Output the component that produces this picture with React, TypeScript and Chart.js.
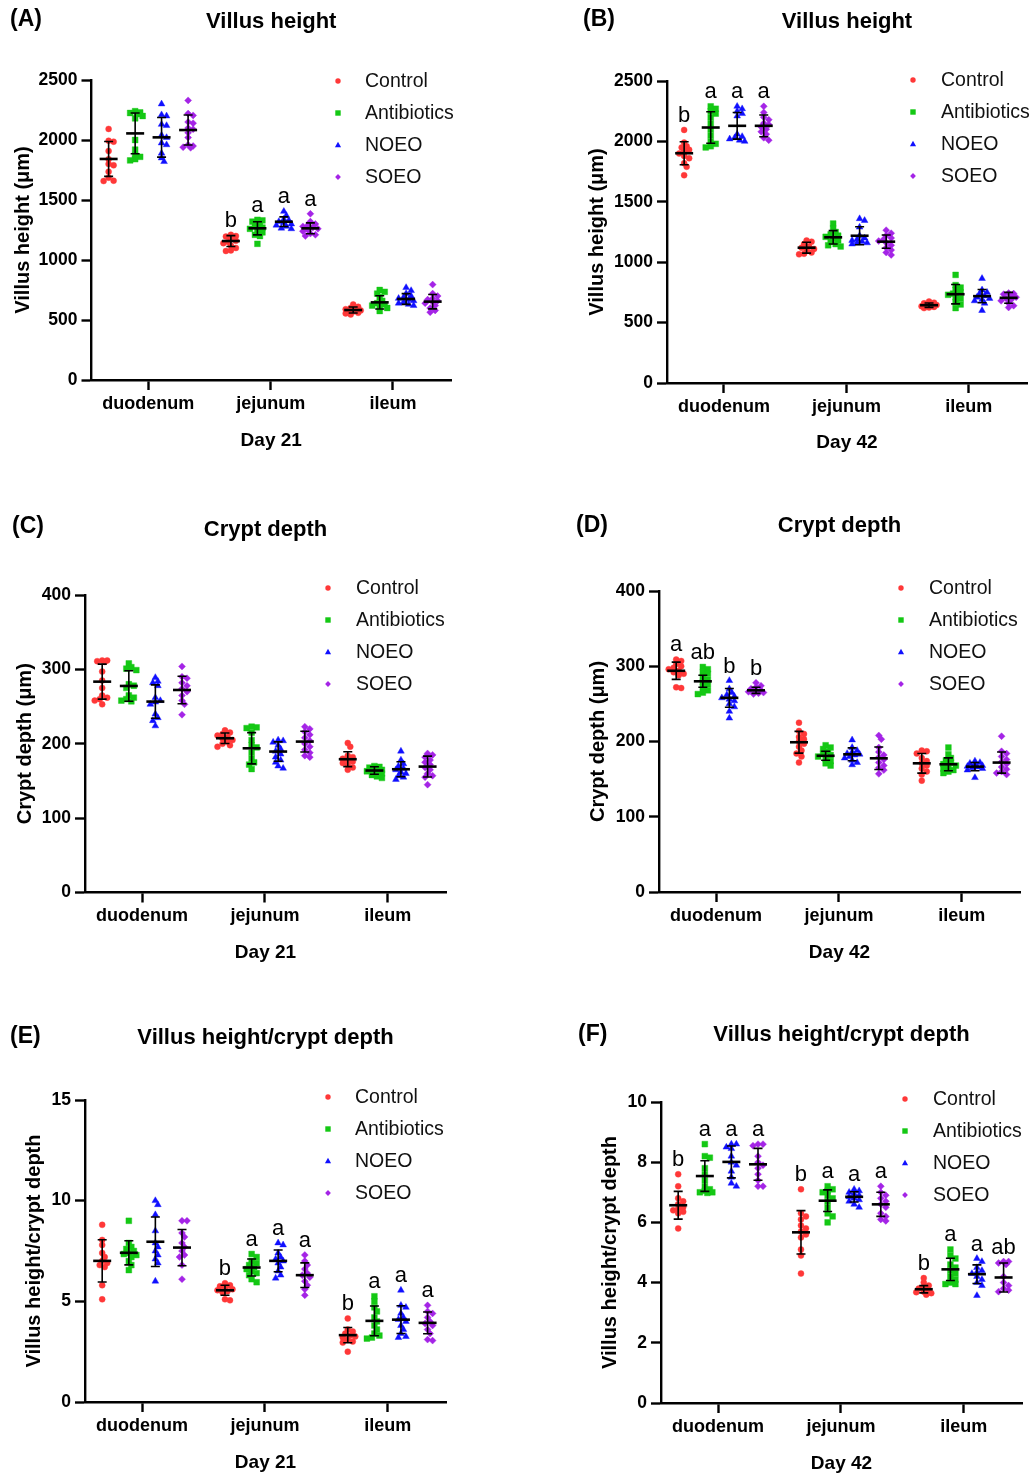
import React, { useEffect, useRef } from 'react';
import { Chart, registerables } from 'chart.js';
Chart.register(...registerables);

// ---------- data ----------
const categories = ['duodenum', 'jejunum', 'ileum'];
const groups = ['Control', 'Antibiotics', 'NOEO', 'SOEO'];

// (A) Villus height, Day 21  [duodenum, jejunum, ileum]
const A_Control = [
  [2092, 1994, 1986, 1908, 1840, 1800, 1789, 1736, 1686, 1661, 1658],
  [1210, 1200, 1195, 1180, 1160, 1150, 1140, 1120, 1100, 1080, 1075],
  [630, 610, 600, 590, 585, 580, 575, 570, 560, 555, 545],
];
const A_Antibiotics = [
  [2240, 2230, 2225, 2215, 2200, 2180, 2000, 1920, 1875, 1860, 1840, 1830],
  [1335, 1330, 1320, 1300, 1285, 1270, 1260, 1240, 1230, 1210, 1200, 1135],
  [750, 735, 720, 690, 660, 640, 630, 620, 610, 600, 575],
];
const A_NOEO = [
  [2300, 2210, 2200, 2130, 2120, 2040, 2020, 1975, 1960, 1890, 1850, 1820],
  [1405, 1370, 1340, 1330, 1320, 1310, 1300, 1290, 1280, 1265, 1260],
  [770, 745, 720, 700, 690, 680, 670, 660, 650, 640, 630, 620],
];
const A_SOEO = [
  [2330, 2220, 2205, 2150, 2140, 2100, 2090, 2060, 2020, 1960, 1950, 1940, 1935],
  [1385, 1320, 1300, 1290, 1280, 1270, 1260, 1250, 1240, 1220, 1210, 1200],
  [795, 720, 700, 680, 670, 660, 650, 640, 620, 600, 580, 565],
];
const A_mean = [[1842, 2055, 2022, 2083], [1158, 1264, 1319, 1264], [583, 647, 675, 653]];
const A_sd = [[145, 170, 165, 125], [45, 55, 40, 45], [25, 55, 45, 60]];
const A_letters = [['', '', '', ''], ['b', 'a', 'a', 'a'], ['', '', '', '']];

// (B) Villus height, Day 42
const B_Control = [
  [2095, 1990, 1960, 1950, 1930, 1920, 1900, 1880, 1860, 1820, 1790, 1720],
  [1180, 1170, 1150, 1130, 1120, 1110, 1100, 1080, 1070, 1065],
  [675, 665, 660, 650, 645, 640, 635, 630, 625, 620],
];
const B_Antibiotics = [
  [2290, 2270, 2250, 2230, 2200, 2150, 2100, 2050, 2000, 1980, 1960, 1950],
  [1320, 1280, 1250, 1230, 1220, 1210, 1200, 1180, 1170, 1150, 1140, 1130],
  [895, 810, 790, 770, 750, 740, 730, 710, 700, 670, 650, 620],
];
const B_NOEO = [
  [2290, 2270, 2250, 2230, 2210, 2060, 2040, 2030, 2020, 2010, 2000],
  [1360, 1345, 1290, 1220, 1200, 1190, 1180, 1170, 1160, 1160, 1150],
  [865, 770, 750, 740, 720, 710, 700, 690, 680, 660, 600],
];
const B_SOEO = [
  [2290, 2240, 2200, 2180, 2150, 2140, 2120, 2100, 2080, 2060, 2030, 2010],
  [1265, 1240, 1220, 1200, 1190, 1175, 1160, 1140, 1120, 1100, 1080, 1060],
  [745, 740, 735, 725, 710, 700, 690, 680, 660, 640, 625],
];
const B_mean = [[1902, 2115, 2129, 2129], [1120, 1206, 1219, 1170], [644, 735, 719, 705]];
const B_sd = [[95, 130, 110, 90], [45, 55, 75, 55], [18, 80, 55, 45]];
const B_letters = [['b', 'a', 'a', 'a'], ['', '', '', ''], ['', '', '', '']];

// (C) Crypt depth, Day 21
const C_Control = [
  [312, 312, 311, 310, 297, 285, 275, 265, 262, 260, 258, 253],
  [218, 215, 213, 211, 209, 207, 205, 203, 200, 198, 196],
  [201, 196, 184, 182, 180, 178, 176, 174, 172, 168, 165],
];
const C_Antibiotics = [
  [308, 303, 301, 299, 280, 278, 275, 265, 262, 260, 258, 257],
  [223, 222, 221, 215, 205, 198, 195, 188, 180, 175, 172, 166],
  [170, 169, 168, 167, 165, 164, 163, 162, 160, 158, 156, 154],
];
const C_NOEO = [
  [289, 284, 282, 278, 262, 258, 256, 253, 240, 235, 231, 224],
  [205, 204, 202, 198, 193, 190, 186, 182, 178, 175, 170, 167],
  [190, 178, 173, 170, 167, 165, 162, 160, 157, 155, 152],
];
const C_SOEO = [
  [304, 290, 288, 282, 278, 274, 270, 265, 258, 253, 239],
  [223, 220, 216, 212, 208, 204, 200, 196, 192, 188, 184, 182],
  [187, 185, 182, 178, 175, 172, 168, 165, 160, 157, 155, 145],
];
const C_mean = [[283.5, 277.7, 256.7, 272.3], [207.4, 193.9, 189.5, 202.9], [179.2, 164, 165.7, 169.3]];
const C_sd = [[23.5, 20.5, 22.5, 18.5], [7, 21, 13, 14], [10, 5, 10, 14]];
const C_letters = [['', '', '', ''], ['', '', '', ''], ['', '', '', '']];

// (D) Crypt depth, Day 42
const D_Control = [
  [309, 307, 303, 300, 298, 296, 294, 292, 290, 288, 272, 271],
  [225, 214, 210, 206, 203, 200, 197, 193, 188, 184, 180, 172],
  [188, 187, 184, 178, 174, 171, 168, 164, 160, 156, 148],
];
const D_Antibiotics = [
  [299, 296, 292, 290, 286, 282, 279, 276, 272, 268, 265, 263],
  [195, 192, 190, 187, 184, 182, 180, 177, 174, 171, 168],
  [192, 183, 178, 175, 172, 170, 168, 166, 164, 162, 160, 158],
];
const D_NOEO = [
  [281, 270, 265, 262, 260, 258, 256, 254, 250, 246, 240, 231],
  [202, 192, 188, 186, 184, 183, 182, 180, 178, 175, 172, 169],
  [174, 172, 171, 170, 168, 167, 166, 165, 164, 162, 152],
];
const D_SOEO = [
  [278, 274, 272, 270, 268, 267, 266, 265, 264, 263],
  [208, 203, 192, 186, 182, 179, 176, 172, 168, 165, 162, 157],
  [207, 187, 184, 180, 176, 173, 170, 166, 163, 160, 158, 156],
];
const D_mean = [[294, 280, 258, 268], [199, 181, 183, 177.7], [171, 169.7, 166.6, 172]];
const D_sd = [[11.5, 8, 12.5, 4], [14.5, 6, 8.5, 15], [13, 8.5, 5.5, 14]];
const D_letters = [['a', 'ab', 'b', 'b'], ['', '', '', ''], ['', '', '', '']];

// (E) Villus height/crypt depth, Day 21
const E_Control = [
  [8.8, 8.05, 7.8, 7.4, 7.2, 7.0, 6.9, 6.8, 6.7, 5.8, 5.1],
  [5.9, 5.8, 5.75, 5.7, 5.6, 5.55, 5.5, 5.45, 5.1, 5.05],
  [4.15, 3.6, 3.5, 3.4, 3.3, 3.25, 3.2, 3.1, 3.0, 2.95, 2.5],
];
const E_Antibiotics = [
  [9.0, 7.9, 7.7, 7.6, 7.5, 7.4, 7.35, 7.3, 7.2, 7.0, 6.8, 6.55],
  [7.35, 7.2, 7.0, 6.9, 6.8, 6.7, 6.6, 6.5, 6.4, 6.3, 6.1, 5.95],
  [5.25, 5.0, 4.7, 4.5, 4.2, 4.0, 3.8, 3.6, 3.4, 3.3, 3.2, 3.15],
];
const E_NOEO = [
  [10.0, 9.8, 9.3, 8.5, 7.9, 7.7, 7.5, 7.3, 7.1, 6.9, 6.0],
  [7.9, 7.8, 7.4, 7.2, 7.1, 7.0, 6.9, 6.7, 6.5, 6.3, 6.15],
  [5.55, 4.8, 4.7, 4.4, 4.2, 4.1, 4.0, 3.8, 3.6, 3.4, 3.25, 3.2],
];
const E_SOEO = [
  [9.0, 9.0, 8.4, 8.2, 7.9, 7.7, 7.5, 7.3, 7.2, 6.8, 6.1],
  [7.3, 7.0, 6.8, 6.6, 6.4, 6.3, 6.2, 6.0, 5.8, 5.6, 5.3],
  [4.8, 4.5, 4.4, 4.2, 4.0, 3.9, 3.8, 3.6, 3.4, 3.1, 3.05],
];
const E_mean = [[7.01, 7.41, 7.96, 7.67], [5.55, 6.68, 7.01, 6.3], [3.32, 4.03, 4.09, 3.93]];
const E_sd = [[1.05, 0.6, 1.23, 0.9], [0.25, 0.42, 0.54, 0.61], [0.38, 0.74, 0.69, 0.54]];
const E_letters = [['', '', '', ''], ['b', 'a', 'a', 'a'], ['b', 'a', 'a', 'a']];

// (F) Villus height/crypt depth, Day 42
const F_Control = [
  [7.6, 7.2, 6.8, 6.7, 6.6, 6.5, 6.45, 6.4, 6.35, 6.3, 5.8],
  [7.1, 6.3, 6.2, 6.1, 5.9, 5.8, 5.7, 5.6, 5.5, 5.1, 4.9, 4.3],
  [4.15, 4.0, 3.9, 3.85, 3.8, 3.75, 3.7, 3.68, 3.65, 3.6],
];
const F_Antibiotics = [
  [8.6, 8.2, 8.15, 7.8, 7.6, 7.4, 7.2, 7.1, 7.05, 7.0, 7.0, 6.98],
  [7.2, 7.1, 7.05, 7.0, 6.9, 6.8, 6.7, 6.5, 6.3, 6.2, 6.0],
  [5.1, 4.9, 4.8, 4.6, 4.5, 4.4, 4.3, 4.2, 4.1, 4.0, 3.95, 3.95],
];
const F_NOEO = [
  [8.6, 8.6, 8.5, 8.45, 8.2, 8.0, 7.9, 7.7, 7.5, 7.3, 7.2],
  [7.1, 7.05, 7.0, 6.95, 6.9, 6.85, 6.8, 6.75, 6.7, 6.6, 6.5],
  [4.8, 4.7, 4.5, 4.4, 4.35, 4.3, 4.2, 4.1, 4.0, 3.9, 3.57],
];
const F_SOEO = [
  [8.6, 8.6, 8.55, 8.2, 8.0, 7.9, 7.8, 7.6, 7.4, 7.2, 7.2],
  [7.2, 7.0, 6.9, 6.8, 6.7, 6.6, 6.5, 6.3, 6.2, 6.1, 6.05],
  [4.7, 4.7, 4.65, 4.6, 4.2, 4.0, 3.9, 3.8, 3.75, 3.7],
];
const F_mean = [[6.57, 7.54, 8.01, 7.93], [5.67, 6.72, 6.85, 6.6], [3.78, 4.44, 4.28, 4.17]];
const F_sd = [[0.46, 0.51, 0.53, 0.53], [0.72, 0.36, 0.17, 0.4], [0.12, 0.37, 0.31, 0.48]];
const F_letters = [['b', 'a', 'a', 'a'], ['b', 'a', 'a', 'a'], ['b', 'a', 'a', 'ab']];

// ---------- styles / layout ----------
const FONT = '"Liberation Sans", Arial, Helvetica, sans-serif';
const groupColors = ['#ff3838', '#14c814', '#1010ff', '#a424e6'];
const groupShapes = ['circle', 'rect', 'triangle', 'rectRot'];
const groupRadius = [3.0, 4.1, 3.9, 3.5];
const GROUP_OFFSETS = [-0.325, -0.108, 0.108, 0.325];
const X_MIN = -0.465;
const X_MAX = 2.475;
const Y_AXIS_W = 60;
const X_AXIS_H = 40;

type Box = { left: number; top: number; width: number; height: number };
type Area = { left: number; right: number; top: number; bottom: number };
type Panel = {
  tag: string; title: string; yTitle: string; xTitle: string;
  yMax: number; yStep: number;
  series: number[][][]; means: number[][]; sds: number[][]; letters: string[][];
  box: Box; area: Area; titleY: number; tagX: number; tagY: number;
  xTitleY: number; yTitleX: number; legMx: number; legTx: number; legY: number;
};

const panels: Panel[] = [
  {
    tag: '(A)', title: 'Villus height', yTitle: 'Villus height (μm)', xTitle: 'Day 21', yMax: 2500, yStep: 500,
    series: [A_Control, A_Antibiotics, A_NOEO, A_SOEO], means: A_mean, sds: A_sd, letters: A_letters,
    box: { left: 0, top: 0, width: 470, height: 490 }, area: { left: 91.5, right: 451, top: 80, bottom: 380 },
    titleY: 22, tagX: 10, tagY: 20, xTitleY: 441, yTitleX: 23, legMx: 338, legTx: 365, legY: 81,
  },
  {
    tag: '(B)', title: 'Villus height', yTitle: 'Villus height (μm)', xTitle: 'Day 42', yMax: 2500, yStep: 500,
    series: [B_Control, B_Antibiotics, B_NOEO, B_SOEO], means: B_mean, sds: B_sd, letters: B_letters,
    box: { left: 560, top: 0, width: 473, height: 490 }, area: { left: 667, right: 1027, top: 81, bottom: 383 },
    titleY: 22, tagX: 583, tagY: 20, xTitleY: 443, yTitleX: 597, legMx: 913, legTx: 941, legY: 80,
  },
  {
    tag: '(C)', title: 'Crypt depth', yTitle: 'Crypt depth (μm)', xTitle: 'Day 21', yMax: 400, yStep: 100,
    series: [C_Control, C_Antibiotics, C_NOEO, C_SOEO], means: C_mean, sds: C_sd, letters: C_letters,
    box: { left: 0, top: 490, width: 470, height: 510 }, area: { left: 85, right: 446, top: 595, bottom: 892.5 },
    titleY: 530, tagX: 12, tagY: 527, xTitleY: 953, yTitleX: 25, legMx: 328, legTx: 356, legY: 588,
  },
  {
    tag: '(D)', title: 'Crypt depth', yTitle: 'Crypt depth (μm)', xTitle: 'Day 42', yMax: 400, yStep: 100,
    series: [D_Control, D_Antibiotics, D_NOEO, D_SOEO], means: D_mean, sds: D_sd, letters: D_letters,
    box: { left: 560, top: 490, width: 473, height: 510 }, area: { left: 659, right: 1020, top: 591, bottom: 892 },
    titleY: 526, tagX: 576, tagY: 526, xTitleY: 953, yTitleX: 598, legMx: 901, legTx: 929, legY: 588,
  },
  {
    tag: '(E)', title: 'Villus height/crypt depth', yTitle: 'Villus height/crypt depth', xTitle: 'Day 21', yMax: 15, yStep: 5,
    series: [E_Control, E_Antibiotics, E_NOEO, E_SOEO], means: E_mean, sds: E_sd, letters: E_letters,
    box: { left: 0, top: 1000, width: 470, height: 477 }, area: { left: 85, right: 446, top: 1100, bottom: 1402 },
    titleY: 1038, tagX: 10, tagY: 1037, xTitleY: 1463, yTitleX: 34, legMx: 328, legTx: 355, legY: 1097,
  },
  {
    tag: '(F)', title: 'Villus height/crypt depth', yTitle: 'Villus height/crypt depth', xTitle: 'Day 42', yMax: 10, yStep: 2,
    series: [F_Control, F_Antibiotics, F_NOEO, F_SOEO], means: F_mean, sds: F_sd, letters: F_letters,
    box: { left: 560, top: 1000, width: 473, height: 477 }, area: { left: 661, right: 1022, top: 1102, bottom: 1403 },
    titleY: 1035, tagX: 578, tagY: 1035, xTitleY: 1464, yTitleX: 610, legMx: 905, legTx: 933, legY: 1099,
  },
];

// compact beeswarm: small horizontal pixel offsets, overlap allowed beyond maxOff
function swarm(values: number[], pxPerUnit: number, step = 2.5, diam = 4.2, maxOff = 8): number[] {
  const placed: { x: number; y: number }[] = [];
  const offs = new Array(values.length).fill(0);
  const order = values.map((_, i) => i).sort((a, b) => values[b] - values[a]);
  for (const i of order) {
    const y = values[i] * pxPerUnit;
    let best = 0;
    let bestScore = -1;
    for (let k = 0; k < 30; k++) {
      const dx = k === 0 ? 0 : (k % 2 === 1 ? 1 : -1) * Math.ceil(k / 2) * step;
      if (Math.abs(dx) > maxOff) break;
      let minD = Infinity;
      for (const p of placed) {
        const d = Math.hypot(p.x - dx, p.y - y);
        if (d < minD) minD = d;
      }
      if (minD >= diam) { best = dx; bestScore = Infinity; break; }
      if (minD > bestScore) { bestScore = minD; best = dx; }
    }
    placed.push({ x: best, y });
    offs[i] = best;
  }
  return offs;
}

function legendMarker(ctx: CanvasRenderingContext2D, shape: string, x: number, y: number, color: string) {
  ctx.fillStyle = color;
  ctx.beginPath();
  if (shape === 'circle') {
    ctx.arc(x, y, 2.7, 0, Math.PI * 2);
  } else if (shape === 'rect') {
    ctx.rect(x - 2.7, y - 2.7, 5.4, 5.4);
  } else if (shape === 'triangle') {
    ctx.moveTo(x, y - 3.3);
    ctx.lineTo(x + 3.1, y + 2.3);
    ctx.lineTo(x - 3.1, y + 2.3);
    ctx.closePath();
  } else {
    ctx.moveTo(x, y - 2.9);
    ctx.lineTo(x + 2.9, y);
    ctx.lineTo(x, y + 2.9);
    ctx.lineTo(x - 2.9, y);
    ctx.closePath();
  }
  ctx.fill();
}

function makeConfig(p: Panel): any {
  const pxPerY = (p.area.bottom - p.area.top) / p.yMax;
  const unitsPerPxX = (X_MAX - X_MIN) / (p.area.right - p.area.left);
  const datasets = groups.map((g, gi) => {
    const pts: { x: number; y: number }[] = [];
    p.series[gi].forEach((vals, ci) => {
      const offs = swarm(vals, pxPerY);
      vals.forEach((v, i) => pts.push({ x: ci + GROUP_OFFSETS[gi] + offs[i] * unitsPerPxX, y: v }));
    });
    return {
      label: g,
      data: pts,
      pointStyle: groupShapes[gi],
      pointRadius: groupRadius[gi],
      pointHoverRadius: groupRadius[gi],
      backgroundColor: groupColors[gi],
      borderColor: groupColors[gi],
      borderWidth: 0.4,
      showLine: false,
    };
  });

  const ox = p.box.left;
  const oy = p.box.top;

  const decor = {
    id: 'decor',
    afterDatasetsDraw(chart: any) {
      const ctx: CanvasRenderingContext2D = chart.ctx;
      const xs = chart.scales.x;
      const ys = chart.scales.y;
      ctx.save();
      ctx.strokeStyle = '#000';
      ctx.fillStyle = '#000';
      categories.forEach((_, ci) => {
        groups.forEach((__, gi) => {
          const cx = xs.getPixelForValue(ci + GROUP_OFFSETS[gi]);
          const m = p.means[ci][gi];
          const s = p.sds[ci][gi];
          const ym = ys.getPixelForValue(m);
          const yh = ys.getPixelForValue(m + s);
          const yl = ys.getPixelForValue(m - s);
          ctx.lineWidth = 1.6;
          ctx.beginPath();
          ctx.moveTo(cx, yh); ctx.lineTo(cx, yl);
          ctx.moveTo(cx - 4.5, yh); ctx.lineTo(cx + 4.5, yh);
          ctx.moveTo(cx - 4.5, yl); ctx.lineTo(cx + 4.5, yl);
          ctx.stroke();
          ctx.lineWidth = 2.6;
          ctx.beginPath();
          ctx.moveTo(cx - 9, ym); ctx.lineTo(cx + 9, ym);
          ctx.stroke();
          const letter = p.letters[ci][gi];
          if (letter) {
            const top = Math.min(ys.getPixelForValue(Math.max(...p.series[gi][ci])), yh);
            ctx.font = `22px ${FONT}`;
            ctx.textAlign = 'center';
            ctx.textBaseline = 'alphabetic';
            ctx.fillText(letter, cx, top - 8);
          }
        });
      });
      ctx.restore();
    },
    afterDraw(chart: any) {
      const ctx: CanvasRenderingContext2D = chart.ctx;
      const ca = chart.chartArea;
      const cxMid = (ca.left + ca.right) / 2;
      const cyMid = (ca.top + ca.bottom) / 2;
      ctx.save();
      ctx.fillStyle = '#000';
      // panel tag
      ctx.font = `bold 23px ${FONT}`;
      ctx.textAlign = 'left';
      ctx.textBaseline = 'middle';
      ctx.fillText(p.tag, p.tagX - ox, p.tagY - oy);
      // title
      ctx.font = `bold 22px ${FONT}`;
      ctx.textAlign = 'center';
      ctx.fillText(p.title, cxMid, p.titleY - oy);
      // x title
      ctx.font = `bold 19px ${FONT}`;
      ctx.fillText(p.xTitle, cxMid, p.xTitleY - oy);
      // y title
      ctx.save();
      ctx.translate(p.yTitleX - ox, cyMid);
      ctx.rotate(-Math.PI / 2);
      ctx.font = `bold 20px ${FONT}`;
      ctx.textAlign = 'center';
      ctx.textBaseline = 'middle';
      ctx.fillText(p.yTitle, 0, 0);
      ctx.restore();
      // legend
      groups.forEach((g, gi) => {
        const ly = p.legY - oy + gi * 32;
        legendMarker(ctx, groupShapes[gi], p.legMx - ox, ly, groupColors[gi]);
        ctx.fillStyle = '#111';
        ctx.font = `19.5px ${FONT}`;
        ctx.textAlign = 'left';
        ctx.textBaseline = 'middle';
        ctx.fillText(g, p.legTx - ox, ly + 1);
      });
      ctx.restore();
    },
  };

  const axisGrid = { drawOnChartArea: false, drawTicks: true, tickLength: 10, tickWidth: 2.4, tickColor: '#000' };
  const axisBorder = { display: true, color: '#000', width: 2.4 };

  return {
    type: 'scatter',
    data: { datasets },
    options: {
      responsive: false,
      animation: false,
      events: [],
      layout: {
        padding: {
          left: p.area.left - p.box.left - Y_AXIS_W,
          right: p.box.left + p.box.width - p.area.right,
          top: p.area.top - p.box.top,
          bottom: p.box.top + p.box.height - p.area.bottom - X_AXIS_H,
        },
      },
      plugins: { legend: { display: false }, tooltip: { enabled: false }, title: { display: false } },
      scales: {
        x: {
          type: 'linear',
          min: X_MIN,
          max: X_MAX,
          afterBuildTicks: (s: any) => { s.ticks = categories.map((_, i) => ({ value: i })); },
          afterFit: (s: any) => { s.height = X_AXIS_H; },
          ticks: {
            autoSkip: false,
            maxRotation: 0,
            padding: 3,
            color: '#000',
            font: { family: FONT, size: 18, weight: 'bold' },
            callback: (v: any) => categories[Math.round(Number(v))] ?? '',
          },
          grid: axisGrid,
          border: axisBorder,
        },
        y: {
          type: 'linear',
          min: 0,
          max: p.yMax,
          afterFit: (s: any) => { s.width = Y_AXIS_W; },
          ticks: {
            stepSize: p.yStep,
            padding: 4,
            color: '#000',
            font: { family: FONT, size: 17.5, weight: 'bold' },
            callback: (v: any) => String(v),
          },
          grid: axisGrid,
          border: axisBorder,
        },
      },
    },
    plugins: [decor],
  };
}

function PanelChart({ p }: { p: Panel }) {
  const ref = useRef<HTMLCanvasElement | null>(null);
  useEffect(() => {
    if (!ref.current) return;
    const chart = new Chart(ref.current, makeConfig(p));
    return () => chart.destroy();
  }, [p]);
  return (
    <canvas
      ref={ref}
      width={p.box.width}
      height={p.box.height}
      style={{ position: 'absolute', left: p.box.left, top: p.box.top, width: p.box.width, height: p.box.height }}
    />
  );
}

export default function App() {
  return (
    <div style={{ position: 'absolute', left: 0, top: 0, width: 1033, height: 1477, background: '#fff', overflow: 'hidden' }}>
      {panels.map((p) => (
        <PanelChart key={p.tag} p={p} />
      ))}
    </div>
  );
}
